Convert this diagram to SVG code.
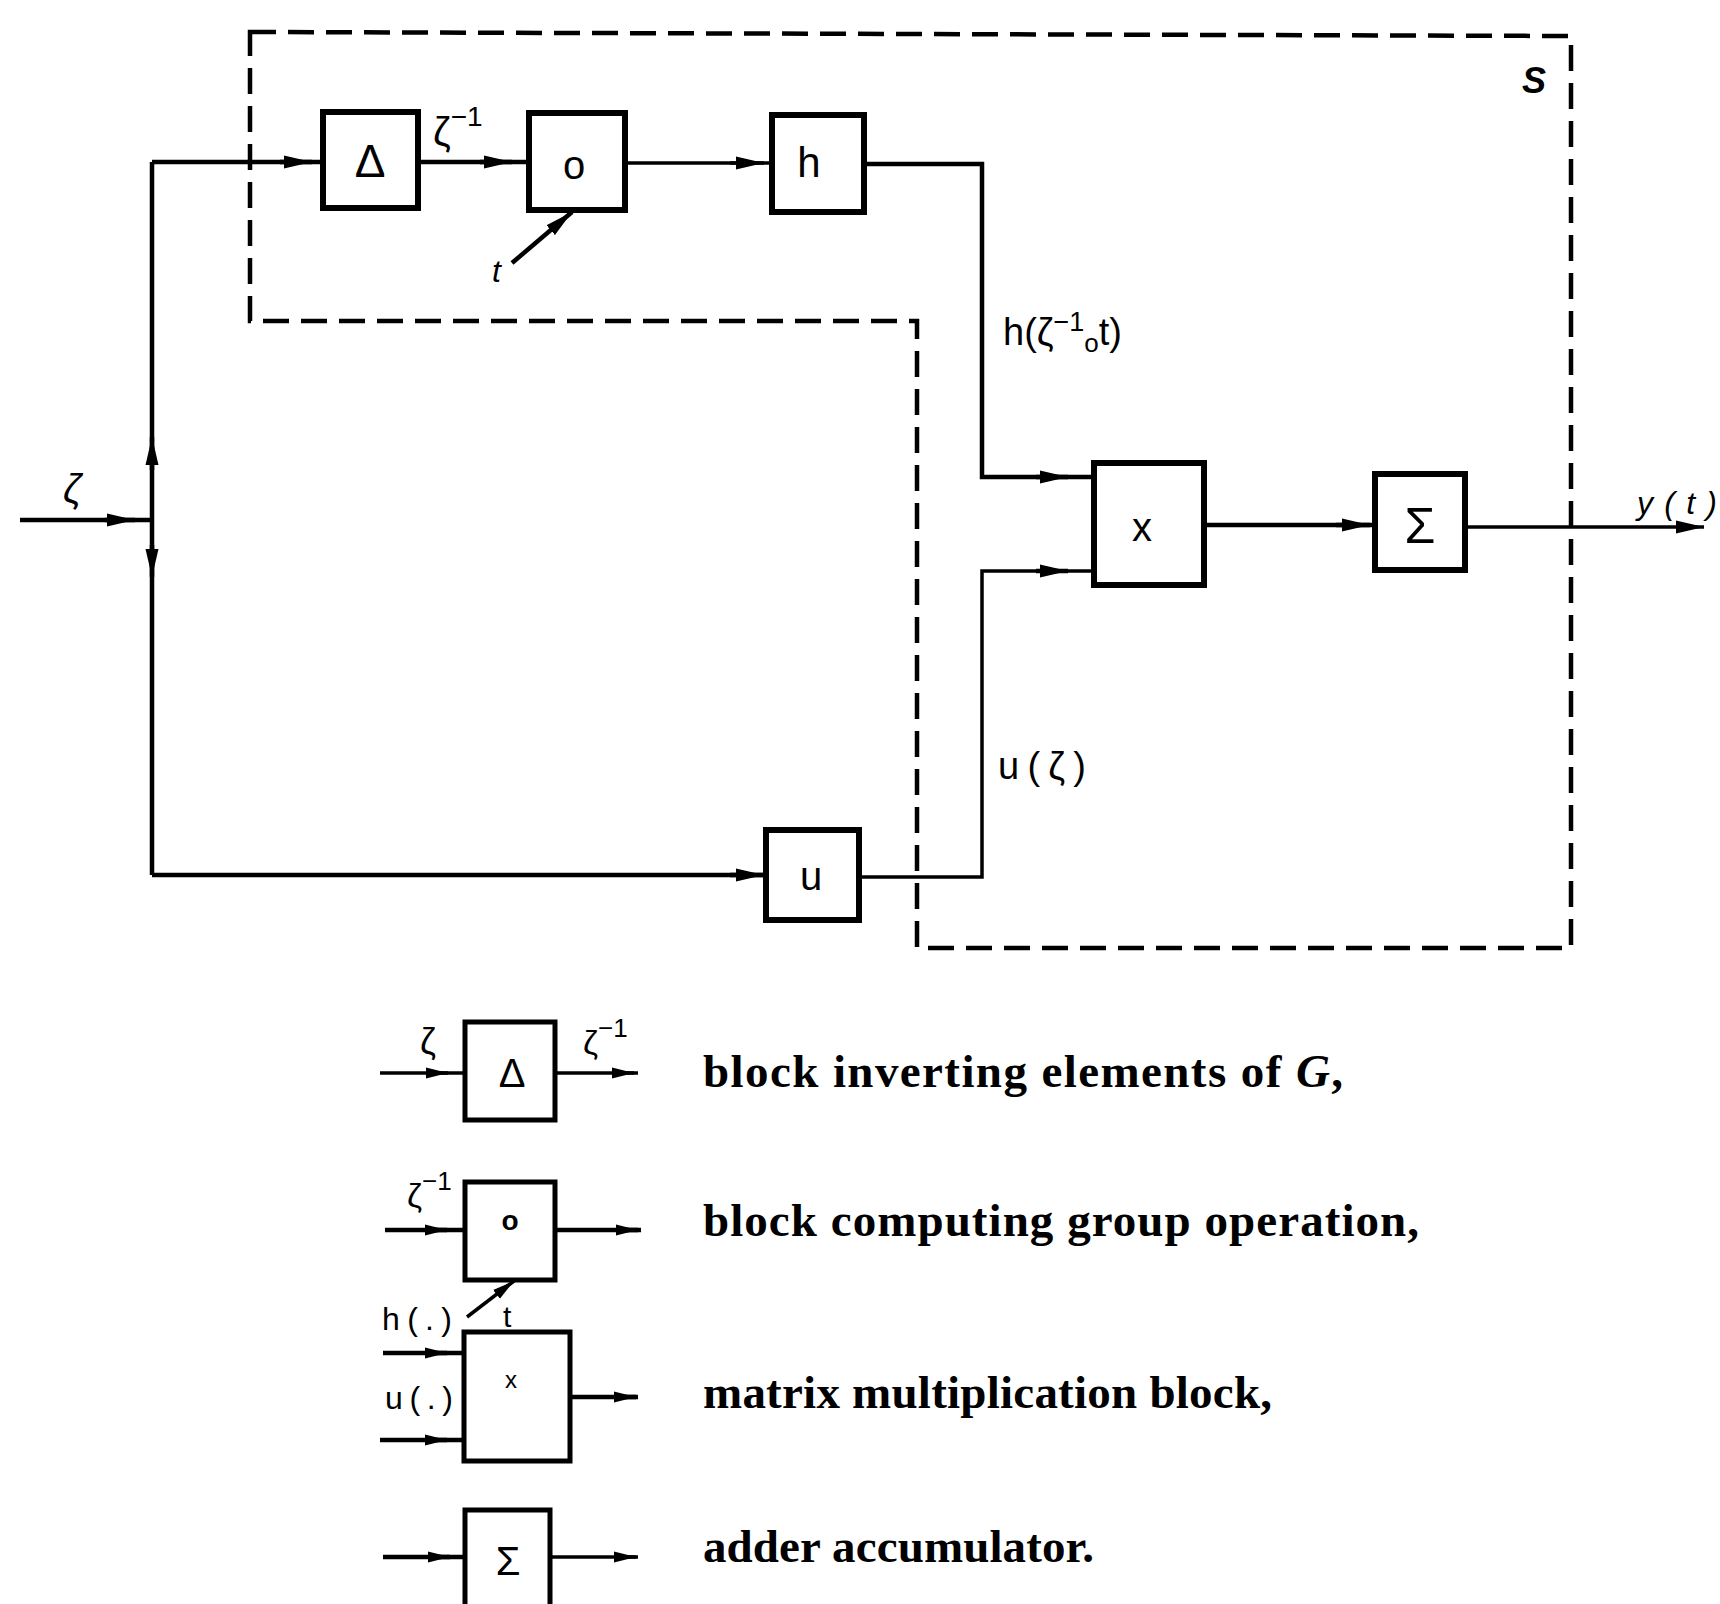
<svg xmlns="http://www.w3.org/2000/svg" width="1720" height="1604" viewBox="0 0 1720 1604">
<style>
.box{fill:none;stroke:#000;stroke-width:6}
.lbox{fill:none;stroke:#000;stroke-width:5}
.wire{fill:none;stroke:#000;stroke-width:4.5}
.thin{fill:none;stroke:#000;stroke-width:3.5}
.dash{fill:none;stroke:#000;stroke-width:4.5;stroke-dasharray:26 12}
.lbl{font-family:"Liberation Sans",Arial,sans-serif;fill:#000}
.it{font-style:italic}
.leg{font-family:"Liberation Serif","Times New Roman",serif;font-weight:bold;font-size:47px;fill:#000}
</style>
<defs>
<marker id="arr" markerUnits="userSpaceOnUse" markerWidth="28" markerHeight="14" viewBox="0 0 28 14" refX="28" refY="7" orient="auto">
<path d="M0,0.5 L28,7 L0,13.5 Z" fill="#000"/>
</marker>
<marker id="arrs" markerUnits="userSpaceOnUse" markerWidth="22" markerHeight="12" viewBox="0 0 22 12" refX="22" refY="6" orient="auto">
<path d="M0,0.5 L22,6 L0,11.5 Z" fill="#000"/>
</marker>
</defs>
<rect width="1720" height="1604" fill="#fff"/>

<g id="system-S">
<path class="dash" d="M250,32 L1571,36 L1571,948 L917,948 L917,321 L250,321 Z"/>
<text class="lbl it" x="1522" y="93" font-size="36" font-weight="bold">S</text>
</g>

<g id="connectors">
<path class="wire" d="M20,520 L152,520"/>
<path class="wire" d="M105,520 L135,520" marker-end="url(#arr)"/>
<path class="wire" d="M152,162 L152,875"/>
<path class="wire" d="M152,470 L152,437" marker-end="url(#arr)"/>
<path class="wire" d="M152,545 L152,577" marker-end="url(#arr)"/>
<path class="wire" d="M152,162 L323,162"/>
<path class="wire" d="M280,162 L312,162" marker-end="url(#arr)"/>
<path class="wire" d="M418,162 L529,162"/>
<path class="wire" d="M480,162 L512,162" marker-end="url(#arr)"/>
<path class="thin" d="M625,163 L772,163"/>
<path class="thin" d="M730,163 L764,163" marker-end="url(#arr)"/>
<path class="wire" d="M512,263 L572,212" marker-end="url(#arr)"/>
<path class="wire" d="M864,164 L982,164 L982,477 L1094,477"/>
<path class="wire" d="M1036,477 L1068,477" marker-end="url(#arr)"/>
<path class="wire" d="M152,875 L766,875"/>
<path class="wire" d="M730,875 L764,875" marker-end="url(#arr)"/>
<path class="thin" d="M859,877 L982,877 L982,571 L1094,571"/>
<path class="wire" d="M1036,571 L1068,571" marker-end="url(#arr)"/>
<path class="wire" d="M1204,525 L1375,525"/>
<path class="wire" d="M1336,525 L1370,525" marker-end="url(#arr)"/>
<path class="thin" d="M1465,527 L1704,527" marker-end="url(#arr)"/>
<!-- legend connectors -->
<path class="thin" d="M380,1073 L465,1073"/>
<path class="thin" d="M428,1073 L448,1073" marker-end="url(#arrs)"/>
<path class="thin" d="M555,1073 L638,1073"/>
<path class="thin" d="M612,1073 L634,1073" marker-end="url(#arrs)"/>
<path class="wire" d="M385,1230 L465,1230"/>
<path class="wire" d="M427,1230 L447,1230" marker-end="url(#arrs)"/>
<path class="wire" d="M555,1230 L641,1230"/>
<path class="wire" d="M616,1230 L638,1230" marker-end="url(#arrs)"/>
<path class="thin" d="M467,1317 L514,1281" marker-end="url(#arrs)"/>
<path class="wire" d="M383,1353 L464,1353"/>
<path class="wire" d="M427,1353 L447,1353" marker-end="url(#arrs)"/>
<path class="wire" d="M380,1440 L464,1440"/>
<path class="wire" d="M427,1440 L447,1440" marker-end="url(#arrs)"/>
<path class="wire" d="M570,1397 L638,1397"/>
<path class="wire" d="M614,1397 L636,1397" marker-end="url(#arrs)"/>
<path class="wire" d="M383,1557 L465,1557"/>
<path class="wire" d="M428,1557 L450,1557" marker-end="url(#arrs)"/>
<path class="thin" d="M550,1557 L638,1557"/>
<path class="thin" d="M614,1557 L636,1557" marker-end="url(#arrs)"/>
</g>

<g id="input-label">
<text class="lbl it" x="63" y="503" font-size="40">ζ</text>
</g>
<g id="label-zinv">
<text class="lbl" x="433" y="146" font-size="40">ζ<tspan dy="-20" font-size="28">−1</tspan></text>
</g>
<g id="label-t">
<text class="lbl it" x="492" y="282" font-size="32">t</text>
</g>

<g id="node-delta">
<rect class="box" x="323" y="112" width="95" height="96"/>
<text class="lbl" x="370" y="177" font-size="46" text-anchor="middle">Δ</text>
</g>
<g id="node-o">
<rect class="box" x="529" y="113" width="96" height="97"/>
<text class="lbl" x="574" y="179" font-size="40" text-anchor="middle">o</text>
</g>
<g id="node-h">
<rect class="box" x="772" y="115" width="92" height="97"/>
<text class="lbl" x="809" y="177" font-size="42" text-anchor="middle">h</text>
</g>
<g id="node-u">
<rect class="box" x="766" y="830" width="93" height="90"/>
<text class="lbl" x="811" y="890" font-size="40" text-anchor="middle">u</text>
</g>
<g id="node-x">
<rect class="box" x="1094" y="463" width="110" height="122"/>
<text class="lbl" x="1142" y="541" font-size="40" text-anchor="middle">x</text>
</g>
<g id="node-sigma">
<rect class="box" x="1375" y="474" width="90" height="96"/>
<text class="lbl" x="1420" y="543" font-size="50" text-anchor="middle">Σ</text>
</g>

<g id="label-hz">
<text class="lbl" x="1003" y="345" font-size="38">h(ζ<tspan dy="-14" font-size="27">−1</tspan><tspan dy="21" font-size="26">o</tspan><tspan dy="-7" font-size="38">t)</tspan></text>
</g>
<g id="label-uz">
<text class="lbl" x="998" y="779" font-size="38" textLength="88" lengthAdjust="spacing">u(ζ)</text>
</g>
<g id="label-yt">
<text class="lbl it" x="1637" y="514" font-size="32" textLength="80" lengthAdjust="spacing">y(t)</text>
</g>

<g id="legend-delta">
<rect class="lbox" x="465" y="1022" width="90" height="98"/>
<text class="lbl" x="512" y="1087" font-size="40" text-anchor="middle">Δ</text>
<text class="lbl" x="420" y="1054" font-size="36">ζ</text>
<text class="lbl" x="583" y="1054" font-size="34">ζ<tspan dy="-17" font-size="26">−1</tspan></text>
<text class="leg" x="703" y="1087" textLength="640" lengthAdjust="spacing">block inverting elements of <tspan font-style="italic">G</tspan>,</text>
</g>
<g id="legend-o">
<rect class="lbox" x="465" y="1182" width="90" height="98"/>
<text class="lbl" x="510" y="1230" font-size="28" font-weight="bold" text-anchor="middle">o</text>
<text class="lbl" x="407" y="1207" font-size="34">ζ<tspan dy="-17" font-size="26">−1</tspan></text>
<text class="lbl" x="503" y="1327" font-size="30">t</text>
<text class="leg" x="703" y="1236" textLength="716" lengthAdjust="spacing">block computing group operation,</text>
</g>
<g id="legend-x">
<rect class="lbox" x="464" y="1332" width="106" height="129"/>
<text class="lbl" x="511" y="1388" font-size="24" text-anchor="middle">x</text>
<text class="lbl" x="382" y="1330" font-size="32" textLength="70" lengthAdjust="spacing">h(.)</text>
<text class="lbl" x="385" y="1409" font-size="32" textLength="68" lengthAdjust="spacing">u(.)</text>
<text class="leg" x="703" y="1408" textLength="569" lengthAdjust="spacing">matrix multiplication block,</text>
</g>
<g id="legend-sigma">
<rect class="lbox" x="465" y="1510" width="85" height="110"/>
<text class="lbl" x="508" y="1575" font-size="40" text-anchor="middle">Σ</text>
<text class="leg" x="703" y="1562" textLength="391" lengthAdjust="spacing">adder accumulator.</text>
</g>
</svg>
